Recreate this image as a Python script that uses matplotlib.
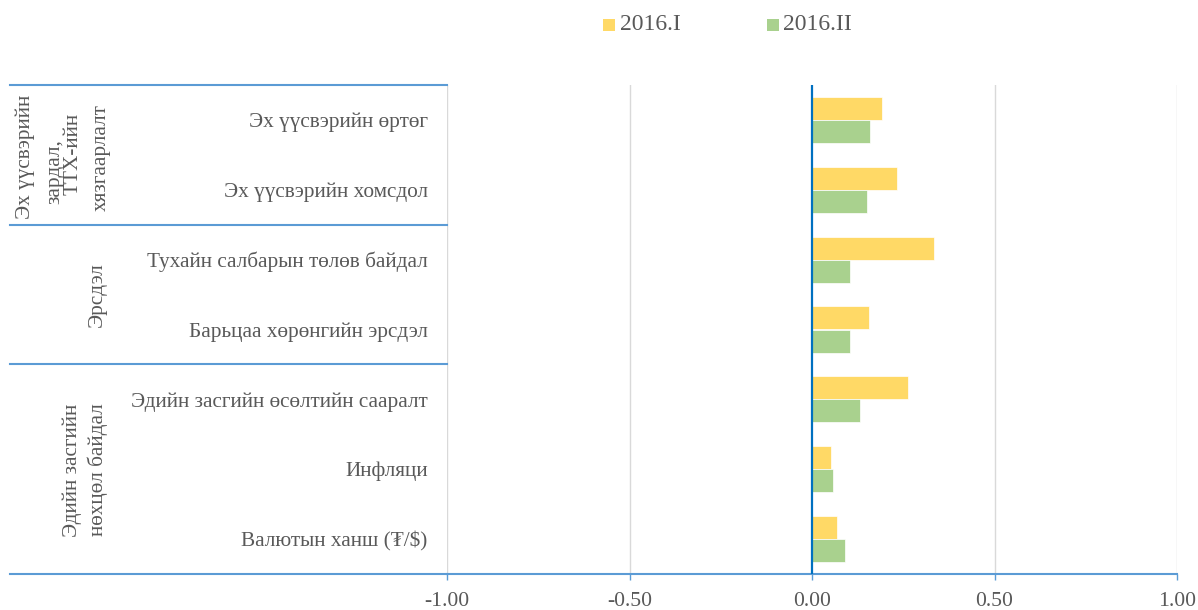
import matplotlib
matplotlib.use("Agg")
import matplotlib.pyplot as plt
from matplotlib.patches import Rectangle
from matplotlib.transforms import blended_transform_factory
import numpy as np

categories = ["Эх үүсвэрийн өртөг", "Эх үүсвэрийн хомсдол",
              "Тухайн салбарын төлөв байдал", "Барьцаа хөрөнгийн эрсдэл",
              "Эдийн засгийн өсөлтийн сааралт", "Инфляци", "Валютын ханш (₮/$)"]
series_names = ["2016.I", "2016.II"]
values_2016_I = [0.191, 0.234, 0.333, 0.155, 0.263, 0.053, 0.068]
values_2016_II = [0.158, 0.151, 0.103, 0.103, 0.131, 0.057, 0.090]
group1_lines = ["Эх үүсвэрийн", "зардал,", "ТТХ-ийн", "хязгаарлалт"]
group2_label = "Эрсдэл"
group3_lines = ["Эдийн засгийн", "нөхцөл байдал"]
xticks = [-1.0, -0.5, 0.0, 0.5, 1.0]

YELLOW = "#ffd966"
GREEN = "#a9d18e"
TEXT = "#595959"
BLUE = "#5b9bd5"
DARKBLUE = "#0070c0"
GRID = "#d9d9d9"
FONT = "Liberation Serif"
FS = 15.3

W, H = 1198, 610
fig = plt.figure(figsize=(W / 100, H / 100), dpi=100)
ax_left, ax_right, ax_top, ax_bot = 447, 1177, 85, 574
ax = fig.add_axes([ax_left / W, 1 - ax_bot / H, (ax_right - ax_left) / W, (ax_bot - ax_top) / H])

y = np.arange(len(categories))
bh = 0.33
ax.barh(y - bh / 2, values_2016_I, height=bh, color=YELLOW, edgecolor="white", linewidth=0.5, zorder=3)
ax.barh(y + bh / 2, values_2016_II, height=bh, color=GREEN, edgecolor="white", linewidth=0.5, zorder=3)

ax.set_xlim(-1, 1)
ax.set_ylim(len(categories) - 0.5, -0.5)
ax.set_xticks(xticks)
ax.set_xticklabels([f"{v:.2f}" for v in xticks], fontsize=15.6, color=TEXT, fontfamily=FONT)
ax.tick_params(axis="x", length=4, width=1, color=BLUE, pad=9)
ax.set_yticks(y)
ax.set_yticklabels(categories, fontsize=FS, color=TEXT, fontfamily=FONT)
ax.tick_params(axis="y", length=0, pad=14)

for s in ["top", "right", "left"]:
    ax.spines[s].set_visible(False)
ax.spines["bottom"].set_color(BLUE)
ax.spines["bottom"].set_linewidth(1.5)

for v in xticks:
    if v != 0:
        ax.axvline(v, color=GRID, lw=1, zorder=1)
ax.axvline(0, color=DARKBLUE, lw=1.6, zorder=4)

# group separators
tr = blended_transform_factory(ax.transAxes, ax.transData)
x0 = (10 - ax_left) / (ax_right - ax_left)
for yy in [-0.5, 1.5, 3.5]:
    ax.plot([x0, 0], [yy, yy], color=BLUE, lw=1.5, transform=tr, clip_on=False)
ax.plot([x0, 0], [6.5, 6.5], color=BLUE, lw=1.5, transform=tr, clip_on=False)

# group labels (pixel positions of rotated lines)
def ftext(px, py, s):
    fig.text(px / W, 1 - py / H, s, rotation=90, ha="center", va="center",
             fontsize=FS, color=TEXT, fontfamily=FONT)

for s, px, py in zip(group1_lines, [25, 55, 73, 101], [157, 172, 154, 158]):
    ftext(px, py, s)
ftext(97, 295, group2_label)
for s, px in zip(group3_lines, [72, 98]):
    ftext(px, 470, s)

# legend
for (sx, tx), name, col in zip([(603, 620), (767, 783)], series_names, (YELLOW, GREEN)):
    fig.patches.append(Rectangle((sx / W, 1 - 31 / H), 12 / W, 12 / H, transform=fig.transFigure,
                                 facecolor=col, edgecolor="none"))
    fig.text(tx / W, 1 - 25 / H, name, ha="left", va="center", fontsize=17, color=TEXT, fontfamily=FONT)

fig.savefig("out.png", dpi=100)
